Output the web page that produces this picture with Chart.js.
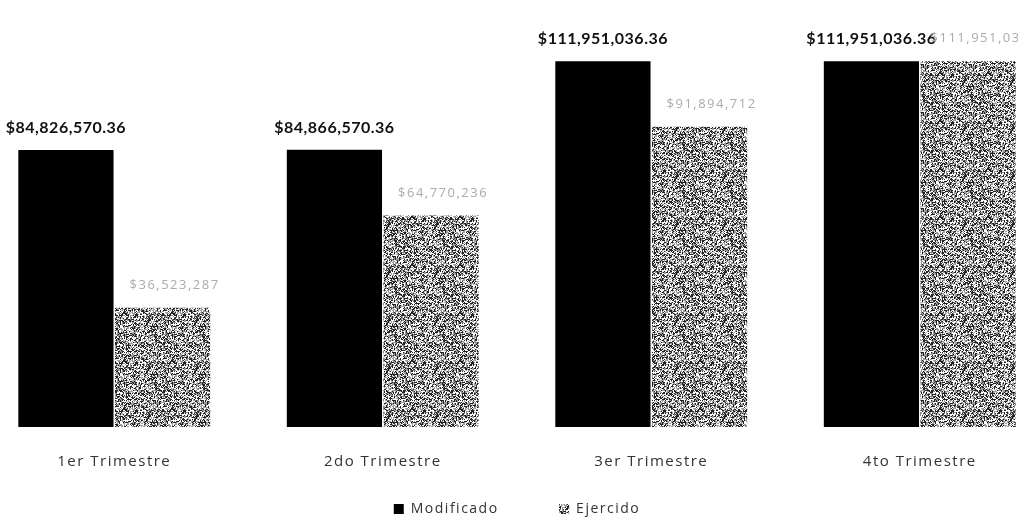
<!DOCTYPE html>
<html>
<head>
<meta charset="utf-8">
<script src="https://cdn.jsdelivr.net/npm/chart.js@4"></script>
<style>
    html, body { margin: 0; padding: 0; background: #fff; overflow: hidden; }
    #wrap { position: absolute; left: -20px; top: 0; width: 1074px; height: 517px; }
</style>
</head>
<body>
<div id="wrap"><canvas id="trimestresChart"></canvas></div>
<script>
const categorias = ['1er Trimestre', '2do Trimestre', '3er Trimestre', '4to Trimestre'];
const modificado = [84826570.36, 84866570.36, 111951036.36, 111951036.36];
const ejercido = [36523287, 64770236, 91894712, 111951036];
const etiquetasModificado = ['$84,826,570.36', '$84,866,570.36', '$111,951,036.36', '$111,951,036.36'];
const etiquetasEjercido = ['$36,523,287', '$64,770,236', '$91,894,712', '$111,951,036'];

// grainy grey fill, like the scanned original
function makeGrain() {
    const c = document.createElement('canvas');
    c.width = 48;
    c.height = 48;
    const g = c.getContext('2d');
    g.fillStyle = '#ffffff';
    g.fillRect(0, 0, 48, 48);
    let seed = 7;
    for (let y = 0; y < 48; y++) {
        for (let x = 0; x < 48; x++) {
            seed = (seed * 1103515245 + 12345) & 0x7fffffff;
            const v = seed % 100;
            if (v < 30) {
                g.fillStyle = '#222222';
                g.fillRect(x, y, 1, 1);
            } else if (v < 62) {
                g.fillStyle = '#9a9a9a';
                g.fillRect(x, y, 1, 1);
            }
        }
    }
    return g.createPattern(c, 'repeat');
}

const grain = makeGrain();

// the scan has loosely spaced lettering (set before layout so widths are measured with it)
const spacing = {
    id: 'spacing',
    beforeLayout(chart) {
        chart.ctx.letterSpacing = '1.5px';
    },
    beforeDraw(chart) {
        chart.ctx.letterSpacing = '1.5px';
    }
};

const barLabels = {
    id: 'barLabels',
    afterDatasetsDraw(chart) {
        const ctx = chart.ctx;
        ctx.save();
        ctx.textAlign = 'center';
        ctx.textBaseline = 'bottom';
        chart.getDatasetMeta(0).data.forEach((bar, i) => {
            ctx.letterSpacing = '0.5px';
            ctx.font = 'bold 16px Lato';
            ctx.fillStyle = '#111';
            ctx.fillText(etiquetasModificado[i], bar.x, bar.y - 14);
        });
        chart.getDatasetMeta(1).data.forEach((bar, i) => {
            ctx.letterSpacing = '1.5px';
            ctx.font = '13px "Open Sans"';
            ctx.fillStyle = '#ababab';
            ctx.fillText(etiquetasEjercido[i], bar.x + 12, bar.y - 16);
        });
        ctx.restore();
    }
};

new Chart(document.getElementById('trimestresChart'), {
    type: 'bar',
    data: {
        labels: categorias,
        datasets: [{
            label: 'Modificado',
            data: modificado,
            backgroundColor: '#000000',
            barPercentage: 0.985,
            categoryPercentage: 0.72,
        },
        {
            label: 'Ejercido',
            data: ejercido,
            backgroundColor: grain,
            barPercentage: 0.985,
            categoryPercentage: 0.72,
        }],
    },
    options: {
        responsive: true,
        maintainAspectRatio: false,
        animation: false,
        layout: {
            padding: { top: 35, bottom: -9 }
        },
        scales: {
            x: {
                grid: { display: false },
                border: { display: false },
                ticks: {
                    padding: 18,
                    color: '#333',
                    font: { family: 'Open Sans', size: 15 }
                },
                afterFit(axis) {
                    axis.height = 71;
                }
            },
            y: {
                display: false,
                min: 0,
                max: 120000000
            }
        },
        plugins: {
            legend: {
                position: 'bottom',
                labels: {
                    boxWidth: 10,
                    boxHeight: 10,
                    padding: 4,
                    color: '#333',
                    font: { family: 'Open Sans', size: 14 },
                    generateLabels(chart) {
                        const items = Chart.defaults.plugins.legend.labels.generateLabels(chart);
                        items[0].text = 'Modificado           ';
                        return items;
                    }
                }
            },
            tooltip: { enabled: false }
        }
    },
    plugins: [spacing, barLabels]
});
</script>
</body>
</html>
